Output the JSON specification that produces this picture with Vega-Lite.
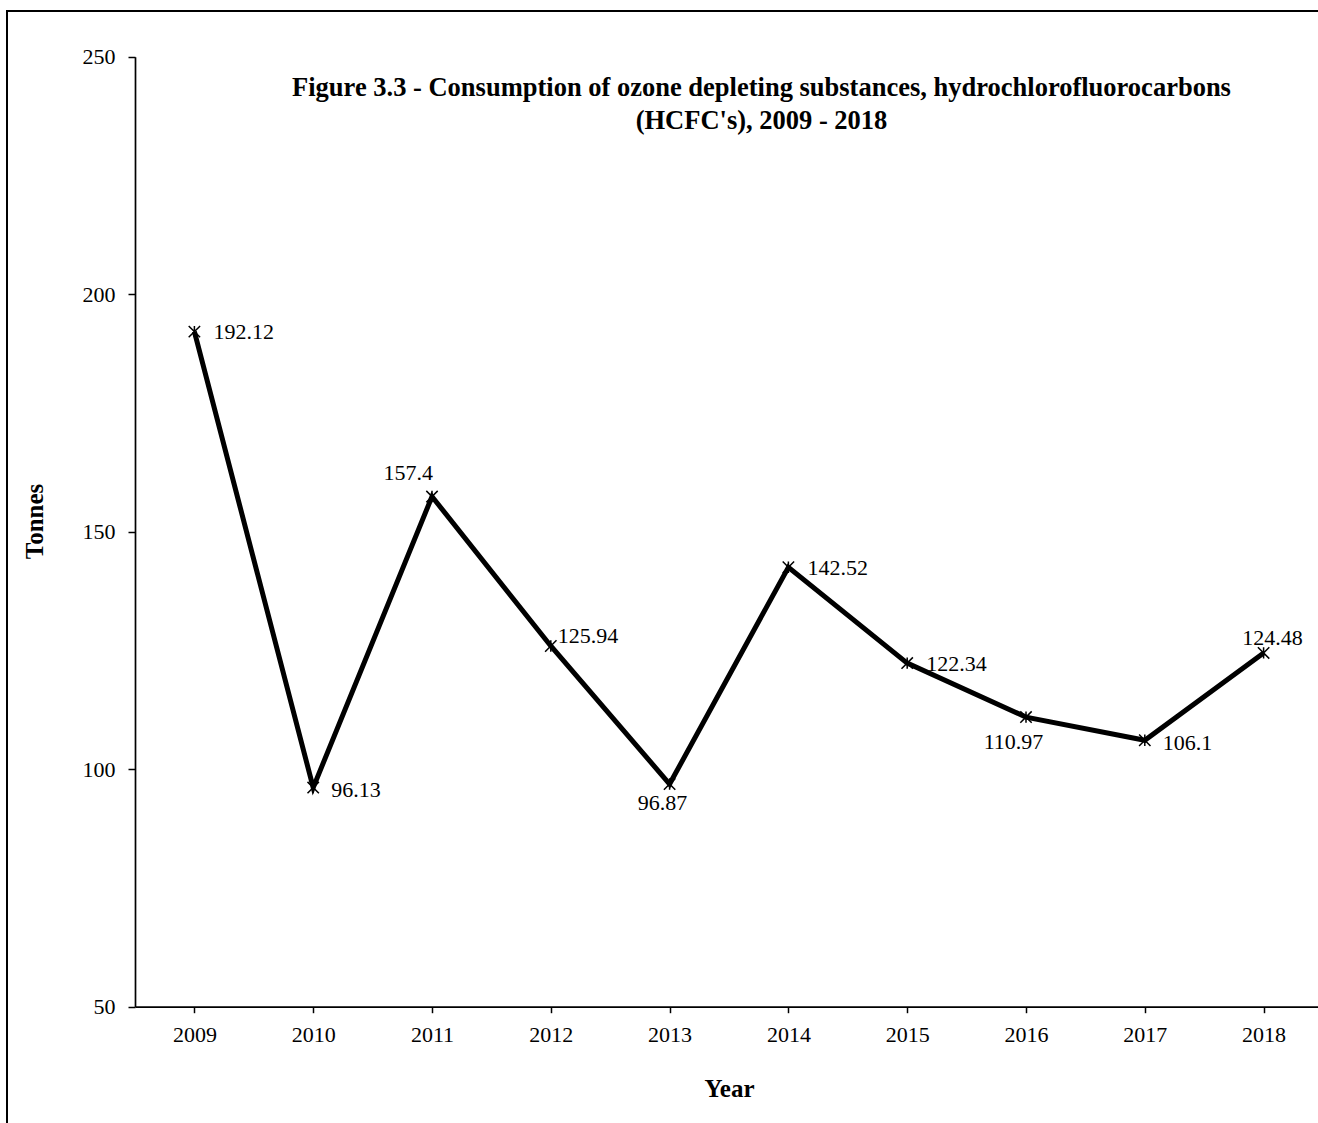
{
  "$schema": "https://vega.github.io/schema/vega-lite/v6.json",
  "width": 1320,
  "height": 1120,
  "autosize": "none",
  "padding": {"left": 7, "top": 11, "right": 0, "bottom": 0},
  "background": "white",
  "title": {
    "text": ["Figure 3.3 - Consumption of ozone depleting substances, hydrochlorofluorocarbons", "(HCFC's), 2009 - 2018"],
    "font": "Liberation Serif",
    "fontSize": 26.5,
    "fontWeight": "bold",
    "color": "black",
    "lineHeight": 33.6,
    "anchor": "middle",
    "frame": "group",
    "baseline": "top",
    "dx": 94.5,
    "offset": -124
  },
  "config": {
    "view": {"stroke": "black", "strokeWidth": 2},
    "font": "Liberation Serif",
    "axis": {
      "grid": false,
      "domainColor": "black",
      "domainWidth": 1.7,
      "tickColor": "black",
      "tickWidth": 1.5,
      "labelColor": "black",
      "labelFont": "Liberation Serif",
      "labelFontSize": 22,
      "titleColor": "black",
      "titleFont": "Liberation Serif",
      "titleFontSize": 25,
      "titleFontWeight": "bold"
    }
  },
  "data": {
    "values": [
      {"year": "2009", "tonnes": 192.12},
      {"year": "2010", "tonnes": 96.13},
      {"year": "2011", "tonnes": 157.4},
      {"year": "2012", "tonnes": 125.94},
      {"year": "2013", "tonnes": 96.87},
      {"year": "2014", "tonnes": 142.52},
      {"year": "2015", "tonnes": 122.34},
      {"year": "2016", "tonnes": 110.97},
      {"year": "2017", "tonnes": 106.1},
      {"year": "2018", "tonnes": 124.48}
    ]
  },
  "encoding": {
    "x": {
      "field": "year",
      "type": "ordinal",
      "scale": {"type": "point", "padding": 0.5, "range": [128, 1316]},
      "axis": {
        "title": "Year",
        "labelAngle": 0,
        "offset": -124.3,
        "tickSize": 6,
        "labelPadding": 11.5,
        "titlePadding": 31
      }
    },
    "y": {
      "field": "tonnes",
      "type": "quantitative",
      "scale": {"domain": [50, 250], "range": [995.7, 45.7], "nice": false, "zero": false},
      "axis": {
        "title": "Tonnes",
        "values": [50, 100, 150, 200, 250],
        "offset": -128,
        "tickSize": 7,
        "labelPadding": 13,
        "titlePadding": 35,
        "titleY": 510
      }
    }
  },
  "layer": [
    {
      "mark": {"type": "line", "color": "black", "strokeWidth": 5, "strokeJoin": "miter"}
    },
    {
      "mark": {
        "type": "point",
        "shape": "M-1,-1L1,1M1,-1L-1,1M0,-1L0,1",
        "filled": false,
        "stroke": "black",
        "strokeWidth": 1.5,
        "size": 130,
        "opacity": 1
      }
    },
    {
      "transform": [{"filter": {"field": "year", "oneOf": ["2009", "2014", "2015"]}}],
      "mark": {"type": "text", "align": "left", "baseline": "middle", "dx": 19, "dy": 0.5, "fontSize": 22, "color": "black"},
      "encoding": {"text": {"field": "tonnes", "type": "nominal"}}
    },
    {
      "transform": [{"filter": {"field": "year", "oneOf": ["2010", "2017"]}}],
      "mark": {"type": "text", "align": "left", "baseline": "middle", "dx": 18, "dy": 2.5, "fontSize": 22, "color": "black"},
      "encoding": {"text": {"field": "tonnes", "type": "nominal"}}
    },
    {
      "transform": [{"filter": {"field": "year", "equal": "2011"}}],
      "mark": {"type": "text", "align": "right", "baseline": "middle", "dx": 1, "dy": -24, "fontSize": 22, "color": "black"},
      "encoding": {"text": {"field": "tonnes", "type": "nominal"}}
    },
    {
      "transform": [{"filter": {"field": "year", "equal": "2012"}}],
      "mark": {"type": "text", "align": "left", "baseline": "middle", "dx": 7, "dy": -10, "fontSize": 22, "color": "black"},
      "encoding": {"text": {"field": "tonnes", "type": "nominal"}}
    },
    {
      "transform": [{"filter": {"field": "year", "equal": "2013"}}],
      "mark": {"type": "text", "align": "center", "baseline": "middle", "dx": -7, "dy": 19, "fontSize": 22, "color": "black"},
      "encoding": {"text": {"field": "tonnes", "type": "nominal"}}
    },
    {
      "transform": [{"filter": {"field": "year", "equal": "2016"}}],
      "mark": {"type": "text", "align": "center", "baseline": "middle", "dx": -12.5, "dy": 25, "fontSize": 22, "color": "black"},
      "encoding": {"text": {"field": "tonnes", "type": "nominal"}}
    },
    {
      "transform": [{"filter": {"field": "year", "equal": "2018"}}],
      "mark": {"type": "text", "align": "center", "baseline": "middle", "dx": 9, "dy": -15, "fontSize": 22, "color": "black"},
      "encoding": {"text": {"field": "tonnes", "type": "nominal"}}
    }
  ]
}
